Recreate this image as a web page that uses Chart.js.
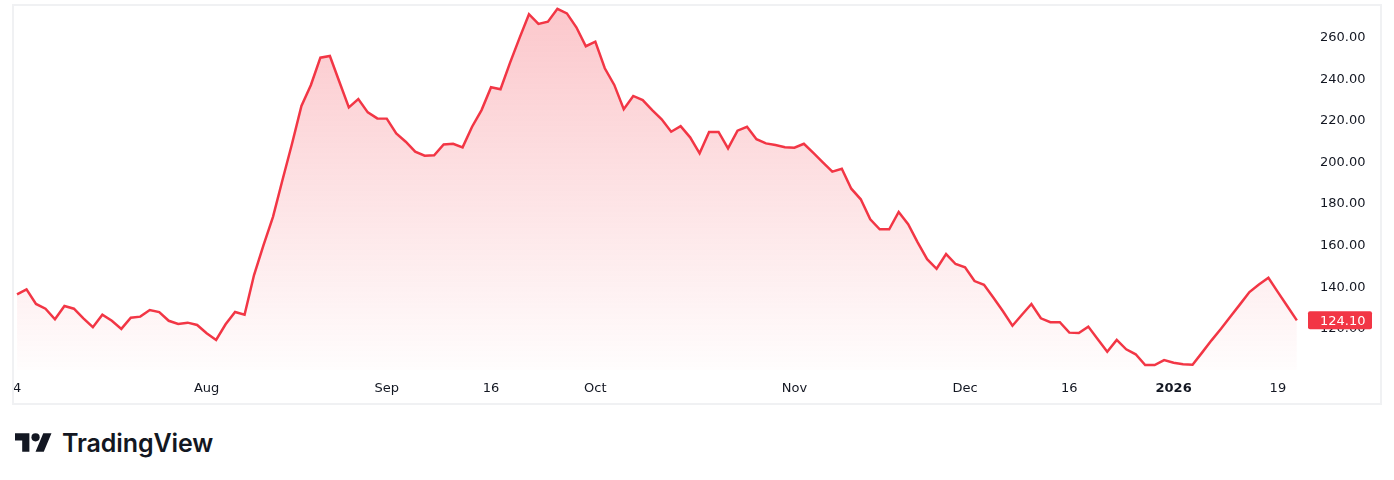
<!DOCTYPE html>
<html lang="en">
<head>
  <meta charset="UTF-8" />
  <title>TradingView chart</title>
  <script src="https://cdn.jsdelivr.net/npm/chart.js@4.4.1/dist/chart.umd.min.js"></script>
  <style>
    body { margin: 0; background: #fff; width: 1394px; height: 480px; position: relative; overflow: hidden; }
    #frame { position: absolute; left: 12px; top: 4px; width: 1366px; height: 397px; border: 2px solid #f0f1f3; }
    #logo { position: absolute; left: 15px; top: 428px; display: flex; align-items: center; }
    #logo span { font-family: Inter, sans-serif; font-weight: 600; font-size: 25px; color: #131722; margin-left: 10px; letter-spacing: -0.1px; }
  </style>
</head>
<body>
  <div id="frame">
    <canvas id="chart" width="1366" height="397"></canvas>
  </div>
  <div id="logo">
    <svg width="37" height="29" viewBox="0 0 36 28"><path d="M14 22H7V11H0V4h14v18zM28 22h-8l7.5-18h8L28 22z" fill="#131722"/><circle cx="20" cy="8" r="4" fill="#131722"/></svg>
    <span>TradingView</span>
  </div>

  <script>
    // daily closes, one per trading session
    const prices = [
      136.6, 139.0, 132.0, 129.7, 124.6, 131.0, 129.7, 125.1, 120.8, 126.8,
      123.9, 120.0, 125.4, 125.9, 129.1, 128.1, 123.9, 122.4, 123.0, 121.9,
      117.9, 114.7, 122.2, 128.1, 126.8, 145.9, 160.3, 173.9, 191.6, 208.9,
      227.2, 237.3, 250.4, 251.2, 238.8, 226.5, 230.5, 224.1, 221.2, 221.1,
      214.0, 210.0, 205.2, 203.3, 203.5, 208.7, 209.0, 207.3, 217.2, 225.2,
      236.2, 235.2, 247.9, 259.8, 271.3, 266.6, 267.7, 273.9, 271.7, 265.0,
      255.9, 258.1, 245.3, 237.3, 225.6, 232.0, 230.0, 225.2, 220.8, 214.8,
      217.5, 212.1, 204.4, 214.7, 214.7, 206.8, 215.3, 217.2, 211.2, 209.2,
      208.4, 207.3, 207.1, 209.0, 204.6, 200.1, 195.6, 197.0, 187.4, 182.3,
      172.7, 167.9, 167.9, 176.2, 170.3, 161.6, 153.5, 148.9, 156.0, 151.2,
      149.6, 143.0, 141.2, 135.0, 128.5, 121.5, 126.8, 132.0, 125.1, 123.2,
      123.2, 118.2, 118.0, 121.1, 115.0, 109.0, 114.7, 110.2, 107.8, 102.6,
      102.6, 105.0, 103.7, 103.0, 102.8, 108.6, 114.5, 120.1, 126.0, 131.8,
      137.7, 141.3, 144.6, 137.7, 130.9, 124.1
    ];
    // x-axis labels and the session they sit on
    const tickIndex = [0, 20, 39, 50, 61, 82, 100, 111, 122, 133];
    const tickText = ['4', 'Aug', 'Sep', '16', 'Oct', 'Nov', 'Dec', '16', '2026', '19'];
    const priceTicks = [120, 140, 160, 180, 200, 220, 240, 260];

    const red = '#f23645';
    const axisFont = 'DejaVu Sans';
    const lastPrice = prices[prices.length - 1];

    const lastLabel = {
      id: 'lastLabel',
      afterDraw(chart) {
        const ctx = chart.ctx;
        const y = chart.scales.y;
        const py = y.getPixelForValue(lastPrice);
        ctx.save();
        ctx.fillStyle = red;
        ctx.beginPath();
        ctx.roundRect(y.left + 3, py - 9, 64, 18, 2);
        ctx.fill();
        ctx.fillStyle = '#fff';
        ctx.font = '13px ' + axisFont;
        ctx.textBaseline = 'middle';
        ctx.textAlign = 'left';
        ctx.fillText(lastPrice.toFixed(2), y.left + 15, py + 1);
        ctx.restore();
      }
    };

    new Chart(document.getElementById('chart'), {
      type: 'line',
      data: {
        datasets: [{
          data: prices.map((p, i) => ({ x: i, y: p })),
          borderColor: red,
          borderWidth: 2.5,
          pointRadius: 0,
          tension: 0,
          fill: 'start',
          backgroundColor: (c) => {
            const area = c.chart.chartArea;
            if (!area) return 'rgba(242,54,69,0.1)';
            const g = c.chart.ctx.createLinearGradient(0, area.top, 0, area.bottom);
            g.addColorStop(0, 'rgba(242,54,69,0.28)');
            g.addColorStop(1, 'rgba(242,54,69,0.01)');
            return g;
          }
        }]
      },
      options: {
        responsive: false,
        animation: false,
        layout: { padding: 0 },
        plugins: { legend: { display: false }, tooltip: { enabled: false } },
        scales: {
          x: {
            type: 'linear',
            min: -0.32,
            max: 135.86,
            grid: { display: false },
            border: { display: false },
            afterBuildTicks: s => { s.ticks = tickIndex.map(v => ({ value: v })); },
            afterFit: s => { s.height = 33; s.paddingLeft = 0; s.paddingRight = 0; },
            ticks: {
              autoSkip: false,
              maxRotation: 0,
              padding: 3,
              color: '#131722',
              font: c => ({ family: axisFont, size: 13, weight: c.tick && c.tick.value === 122 ? 'bold' : 'normal' }),
              callback: v => tickText[tickIndex.indexOf(v)]
            }
          },
          y: {
            position: 'right',
            min: 100.24,
            max: 275.24,
            grid: { display: false, drawTicks: false },
            border: { display: false },
            afterBuildTicks: s => { s.ticks = priceTicks.map(v => ({ value: v })); },
            afterFit: s => { s.width = 75; s.paddingTop = 0; s.paddingBottom = 0; },
            ticks: {
              padding: 15,
              color: '#131722',
              font: { family: axisFont, size: 13 },
              callback: v => v.toFixed(2)
            }
          }
        }
      },
      plugins: [lastLabel]
    });
  </script>
</body>
</html>
